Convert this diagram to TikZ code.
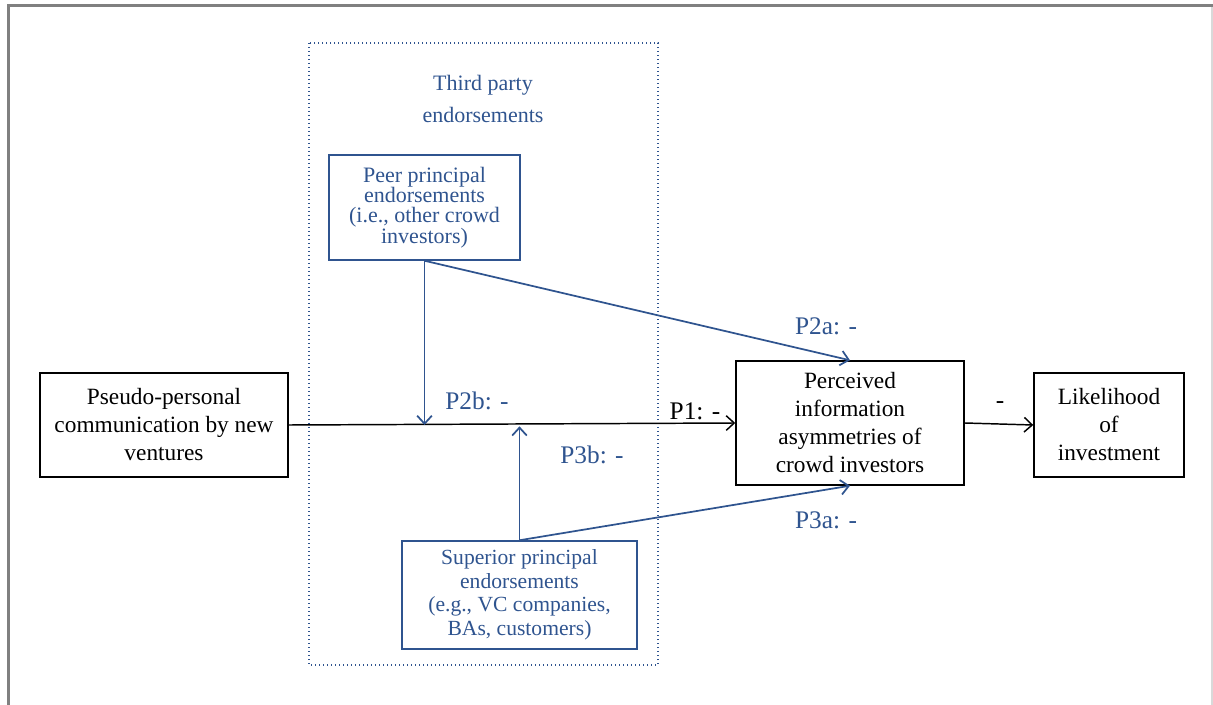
\documentclass[tikz,border=0pt]{standalone}
\usepackage{fontspec}
\setmainfont{Liberation Serif}
\usetikzlibrary{arrows.meta, positioning}

\definecolor{endblue}{RGB}{47,84,143}
\definecolor{framegray}{RGB}{128,128,128}

\tikzset{
  mainbox/.style  = {draw, line width = 1.1pt, align = center, inner sep = 2pt,
                     font = \fontsize{17.5}{21}\selectfont},
  endbox/.style   = {mainbox, draw = endblue, text = endblue},
  plabel/.style   = {font = \fontsize{19}{22}\selectfont, inner sep = 0pt},
  group/.style    = {draw = endblue, dotted, line width = 1pt},
  endline/.style  = {->, endblue, line width = 1.3pt}
}

\begin{document}
\begin{tikzpicture}[x = 0.75pt, y = -0.75pt, line width = 1.1pt,
                    >= {Straight Barb[length = 6pt, width = 11pt]}]
        \useasboundingbox (0,0) rectangle (1213,705);

        % frame of the page
        \draw[framegray, line width = 2.25pt] (8.5,705) -- (8.5,6) -- (1213,6);
        \draw[framegray!30, line width = 1pt] (1212,7) -- (1212,705);

        % third party block
        \draw[group] (309,43) rectangle (658,665);
        \node[text = endblue, align = center,
              font = \fontsize{16.5}{24}\selectfont] (third) at (483,99)
              {Third party\\endorsements};

        \node[mainbox, minimum width = 186pt, minimum height = 78pt] (pseudo) at (164,425)
              {Pseudo-personal\\communication by new\\ventures};
        \node[endbox, minimum width = 143.25pt, minimum height = 78.75pt,
              font = \fontsize{16.5}{15.2}\selectfont] (peer) at (424.5,207.5)
              {Peer principal\\endorsements\\(i.e., other crowd\\investors)};
        \node[endbox, minimum width = 176.25pt, minimum height = 81pt,
              font = \fontsize{16.2}{17.6}\selectfont] (superior) at (519.5,595)
              {Superior principal\\endorsements\\(e.g., VC companies,\\BAs, customers)};
        \node[mainbox, minimum width = 171pt, minimum height = 93pt] (perceived) at (850,423)
              {Perceived\\information\\asymmetries of\\crowd investors};
        \node[mainbox, minimum width = 112.5pt, minimum height = 78pt] (likely) at (1109,425)
              {Likelihood\\of\\investment};

        % connectors
        \draw[->] (pseudo.east) -- (perceived.west);
        \draw[->] (perceived.east) -- (likely.west);
        \draw[endline] (peer.south) -- (peer.south |- pseudo.east);
        \draw[endline] (peer.south) -- (perceived.north);
        \draw[endline] (superior.north) -- ([yshift = -1pt] superior.north |- pseudo.east);
        \draw[endline] (superior.north) -- (perceived.south);

        % labels
        \node[plabel, text = endblue] (p2a) at (826,326) {P2a: -};
        \node[plabel, text = endblue] (p2b) at (477,401) {P2b: -};
        \node[plabel]                 (p1)  at (695,411) {P1: -};
        \node[plabel, text = endblue] (p3b) at (592,455) {P3b: -};
        \node[plabel, text = endblue] (p3a) at (826,520) {P3a: -};
        \node[plabel]                 (neg) at (1000,405) {-};
    \end{tikzpicture}
\end{document}
